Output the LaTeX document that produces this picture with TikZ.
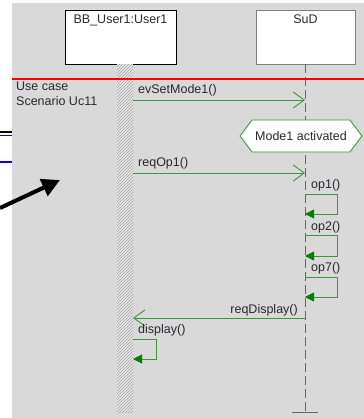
\documentclass[tikz,border=0pt]{standalone}
\usepackage{fontspec}
\setmainfont{Liberation Sans}
\usetikzlibrary{arrows.meta,patterns,shapes.symbols}

\definecolor{msggreen}{RGB}{60,150,60}
\definecolor{tipgreen}{RGB}{0,128,0}
\definecolor{bggray}{RGB}{217,217,217}
\definecolor{txtgray}{RGB}{40,40,50}
\definecolor{sepred}{RGB}{255,0,0}
\definecolor{barlight}{RGB}{232,232,232}
\definecolor{hatchgray}{RGB}{160,160,160}

\tikzset{
  lifebox/.style={draw, fill=white, anchor=north, minimum width=#1, text height=13pt, text depth=41pt, inner sep=0pt, text=txtgray},
  msg/.style={draw=msggreen, line width=0.9pt, -{Straight Barb[length=11pt,width=16pt,line width=0.9pt]}},
  selfcall/.style={draw=msggreen, line width=0.9pt, -{Triangle[length=9pt,width=9pt,fill=tipgreen,color=tipgreen]}},
  msglabel/.style={anchor=base west, inner sep=0pt, text=txtgray}
}

\begin{document}
\begin{tikzpicture}[x=1pt, y=-1pt, font=\fontsize{12.5}{15}\selectfont]
	\useasboundingbox (0,0) rectangle (364,418);
	% Background
	\fill[bggray] (12,3) rectangle (364,418);
	
	% Stray lines and pointer on the left
	\draw[black, line width=1.3pt] (0,132) -- (12,132);
	\draw[blue, line width=1.3pt] (0,135.5) -- (12,135.5);
	\draw[blue, line width=1.3pt] (0,162) -- (12,162);
	\coordinate (ptrStart) at (0,208);
	\coordinate (ptrEnd) at (60,180);
	\draw[line width=4pt, -{Triangle[length=18pt,width=18pt]}] (ptrStart) -- (ptrEnd);
	
	% Lifelines
	\node[lifebox=111pt] (user) at (120.5,10) {BB\_User1:User1};
	\node[lifebox=99pt, draw=gray] (sud) at (305.5,10) {SuD};
	\fill[barlight] (117,64) rectangle (133,412);
	\fill[pattern=north east lines, pattern color=hatchgray] (117,64) rectangle (133,412);
	\draw[gray!80!black, dash pattern=on 9pt off 4pt] (305,64) -- (305,412);
	\draw[gray!80!black, line width=1pt] (292,412) -- (318,412);
	
	% Scenario separator
	\draw[draw=sepred, line width=1.2pt] (12,79) -- (364,79);
	\node[anchor=north west, align=left, inner sep=0pt, text=txtgray] (scen) at (16,82) {Use case\\Scenario Uc11};
	
	% Messages
	\coordinate (u1) at (133,100);   \coordinate (s1) at (305,100);
	\draw[msg] (u1) -- (s1);
	\node[msglabel] (m1) at (138,93) {evSetMode1()};
	
	\node[signal, signal to=west and east, signal pointer angle=106, draw=msggreen, fill=white, line width=0.9pt,
	      minimum width=122pt, minimum height=32pt, inner sep=0pt, text=txtgray] (mode) at (301,136) {Mode1 activated};
	
	\coordinate (u2) at (133,173);   \coordinate (s2) at (305,173);
	\draw[msg] (u2) -- (s2);
	\node[msglabel] (m2) at (138,166) {reqOp1()};
	
	% Self calls on SuD
	\coordinate (op1a) at (305,194); \coordinate (op1b) at (305,214);
	\draw[selfcall] (op1a) -- (337,194) -- (337,214) -- (op1b);
	\node[msglabel] (m3) at (311,188) {op1()};
	
	\coordinate (op2a) at (305,235); \coordinate (op2b) at (305,256);
	\draw[selfcall] (op2a) -- (337,235) -- (337,256) -- (op2b);
	\node[msglabel] (m4) at (311,230) {op2()};
	
	\coordinate (op7a) at (305,277); \coordinate (op7b) at (305,297);
	\draw[selfcall] (op7a) -- (337,277) -- (337,297) -- (op7b);
	\node[msglabel] (m5) at (311,271) {op7()};
	
	\coordinate (s3) at (305,318);   \coordinate (u3) at (133,318);
	\draw[msg] (s3) -- (u3);
	\node[anchor=base east, inner sep=0pt, text=txtgray] (m6) at (298,313) {reqDisplay()};
	
	% Self call on User1
	\coordinate (dspa) at (133,339); \coordinate (dspb) at (133,359);
	\draw[selfcall] (dspa) -- (156,339) -- (156,359) -- (dspb);
	\node[msglabel] (m7) at (138,333) {display()};
\end{tikzpicture}
\end{document}
